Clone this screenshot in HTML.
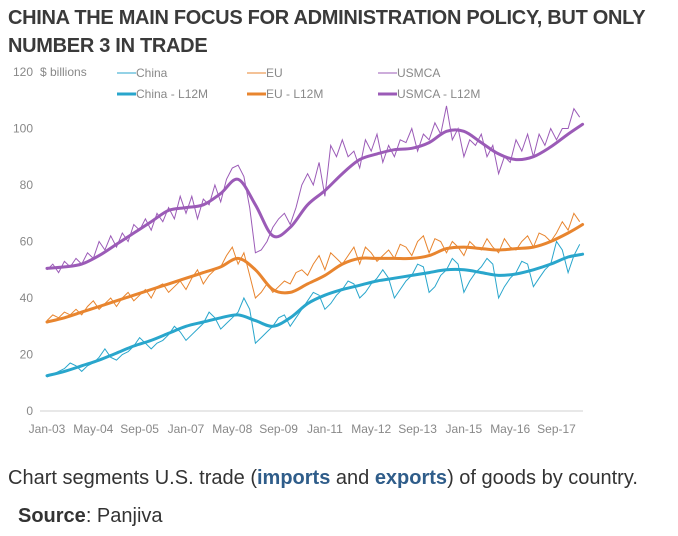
<!DOCTYPE html>
<html><head><meta charset="utf-8"><style>
body{margin:0;background:#fff;width:678px;height:536px;overflow:hidden;font-family:"Liberation Sans",Arial,sans-serif}
.t{position:absolute;left:8px;font-weight:bold;font-size:20px;color:#3a3a3a;letter-spacing:-0.3px}
</style></head><body>
<div class="t" style="top:7px">CHINA THE MAIN FOCUS FOR ADMINISTRATION POLICY, BUT ONLY</div>
<div class="t" style="top:35px">NUMBER 3 IN TRADE</div>
<svg id="chart" width="678" height="536" style="position:absolute;left:0;top:0" font-family="Liberation Sans, Arial, sans-serif"></svg>
<div style="position:absolute;left:8px;top:467px;font-size:20px;color:#333">Chart segments U.S. trade (<b style="color:#2f5d8a">imports</b> and <b style="color:#2f5d8a">exports</b>) of goods by country.</div>
<div style="position:absolute;left:18px;top:505px;font-size:20px;color:#333"><b>Source</b>: Panjiva</div>
<script>
const rawMonths = Array.from({length:93},(_,i)=>i*2);
const chinaRaw=[12,13,14,15,17,16,14,16,17,19,22,19,18,20,21,23,26,24,22,24,25,27,30,28,25,27,29,31,35,33,29,31,33,35,40,36,24,26,28,30,33,34,30,33,36,39,42,41,36,38,41,43,46,45,40,42,45,47,50,47,40,43,46,48,52,51,42,44,48,50,54,52,42,46,49,51,54,52,40,44,47,49,53,52,44,47,50,52,60,57,49,55,59];
const euRaw=[32,34,33,35,34,36,34,37,39,36,38,40,37,40,42,39,41,43,40,44,45,42,44,46,43,47,50,45,48,50,51,55,58,52,56,48,40,42,45,42,44,46,45,49,50,48,52,55,50,56,54,52,55,58,52,58,56,53,55,57,54,59,58,55,60,62,56,61,60,56,60,58,55,60,58,57,61,58,56,61,58,57,60,62,58,63,62,60,63,67,64,70,67];
const usmcaRaw=[50,52,49,53,51,54,52,56,54,60,57,62,58,63,60,66,64,68,64,70,67,72,68,76,70,76,68,75,73,80,74,82,86,87,83,72,56,57,60,65,68,70,66,72,80,84,80,88,76,94,90,96,90,92,86,96,92,98,88,94,90,96,95,100,92,98,96,102,98,108,96,100,90,96,94,98,90,94,84,90,88,96,92,98,90,98,94,100,96,100,100,107,104];
const smoothMonths=[0,6,12,18,24,30,36,42,48,54,60,66,72,78,84,90,96,102,108,114,120,126,132,138,144,150,156,162,168,174,180,185];
const usmcaL12=[50.5,51,52,55,59,63,67,71,72,73,77,82,73,62,65,73,78,84,89,91,92.5,93,95,99,99,95,91,89,90,93.5,98,101.5];
const euL12=[31.5,33,35,37,39,41,43,45,47,49,51,54,50,43,42,45,48,52,54,54,54,54,55,57.5,58,57.5,57,57.5,58,60,63,66];
const chinaL12=[12.5,14,16,18,20.5,23,25,27.5,30,31.5,33,34,32,30,33,38,41,43,44.5,46,47,48,49,50,50,49,48,48.5,50,52,54.5,55.5];
const yTicks=[0,20,40,60,80,100,120];
const xTickLabels=["Jan-03","May-04","Sep-05","Jan-07","May-08","Sep-09","Jan-11","May-12","Sep-13","Jan-15","May-16","Sep-17"];
const xTickMonths=[0,16,32,48,64,80,96,112,128,144,160,176];

const NS="http://www.w3.org/2000/svg";
const svg=document.getElementById('chart');
const x=m=>47+m*2.895;
const y=v=>411-v*2.825;
function mk(t,a,p){const e=document.createElementNS(NS,t);for(const k in a)e.setAttribute(k,a[k]);(p||svg).appendChild(e);return e;}
const ax=mk('line',{x1:40,x2:583,y1:y(0),y2:y(0),stroke:'#d0d0d0','stroke-width':1});


yTicks.forEach(v=>{const t=mk('text',{x:33,y:y(v)+4,'text-anchor':'end','font-size':12,fill:'#888'});t.textContent=v;

});
const ub=mk('text',{x:40,y:y(120)+4,'font-size':12,fill:'#888'});ub.textContent='$ billions';


xTickLabels.forEach((l,i)=>{const t=mk('text',{x:x(xTickMonths[i]),y:433,'text-anchor':'middle','font-size':12,fill:'#888'});t.textContent=l;

});
function poly(ms,vs){return vs.map((v,i)=>(i?'L':'M')+x(ms[i]).toFixed(1)+','+y(v).toFixed(1)).join('');}
function spline(ms,vs){const p=vs.map((v,i)=>[x(ms[i]),y(v)]);let d='M'+p[0][0]+','+p[0][1];
for(let i=0;i<p.length-1;i++){const p0=p[i-1]||p[i],p1=p[i],p2=p[i+1],p3=p[i+2]||p2;
d+='C'+(p1[0]+(p2[0]-p0[0])/6).toFixed(1)+','+(p1[1]+(p2[1]-p0[1])/6).toFixed(1)+' '+(p2[0]-(p3[0]-p1[0])/6).toFixed(1)+','+(p2[1]-(p3[1]-p1[1])/6).toFixed(1)+' '+p2[0].toFixed(1)+','+p2[1].toFixed(1);}return d;}
const C='#29a6cc',E='#e8852f',U='#9b5bb7';
[[usmcaRaw,U,'usmca-line'],[euRaw,E,'eu-line'],[chinaRaw,C,'china-line']].forEach(([d,c,n])=>{const p=mk('path',{d:poly(rawMonths,d),fill:'none',stroke:c,'stroke-width':1});

});
[[usmcaL12,U,'usmca-l12m-line'],[euL12,E,'eu-l12m-line'],[chinaL12,C,'china-l12m-line']].forEach(([d,c,n])=>{const p=mk('path',{d:spline(smoothMonths,d),fill:'none',stroke:c,'stroke-width':3,'stroke-linecap':'round'});

});
const leg=[['China',C,1,117,73],['EU',E,1,247,73],['USMCA',U,1,378,73],['China - L12M',C,3,117,94],['EU - L12M',E,3,247,94],['USMCA - L12M',U,3,378,94]];
leg.forEach(([l,c,w,lx,ly])=>{const g=mk('g',{});


mk('line',{x1:lx,x2:lx+19,y1:ly,y2:ly,stroke:c,'stroke-width':w},g);const t=mk('text',{x:lx+19,y:ly+4,'font-size':12,fill:'#888'},g);t.textContent=l;});
</script>
</body></html>
